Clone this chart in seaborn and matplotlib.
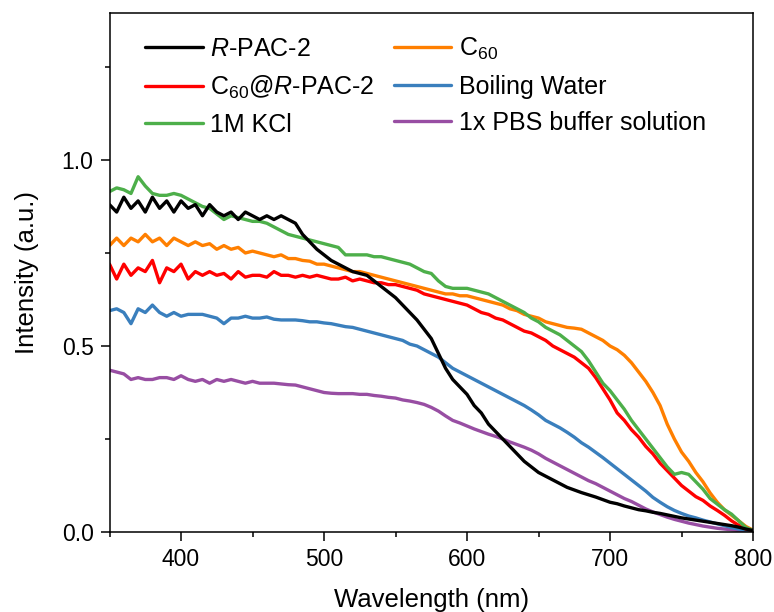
import numpy as np
import pandas as pd
import seaborn as sns
import matplotlib
matplotlib.use("Agg")
import matplotlib.pyplot as plt
from matplotlib.ticker import MultipleLocator

# wavelength grid (nm), 5 nm steps
wavelength = np.arange(350, 801, 5)

# intensities, one list per sample
r_pac2 = [0.88, 0.86, 0.90, 0.87, 0.89, 0.86, 0.90, 0.87, 0.89, 0.86,
          0.89, 0.87, 0.88, 0.85, 0.88, 0.86, 0.85, 0.86, 0.84, 0.86,
          0.85, 0.84, 0.85, 0.84, 0.85, 0.84, 0.83, 0.80, 0.78, 0.76,
          0.745, 0.73, 0.72, 0.71, 0.70, 0.695, 0.69, 0.675, 0.66, 0.645,
          0.63, 0.61, 0.59, 0.57, 0.545, 0.52, 0.48, 0.44, 0.41, 0.39,
          0.37, 0.34, 0.32, 0.29, 0.27, 0.25, 0.23, 0.21, 0.19, 0.175,
          0.16, 0.15, 0.14, 0.13, 0.12, 0.113, 0.106, 0.10, 0.094, 0.087,
          0.08, 0.076, 0.07, 0.065, 0.06, 0.057, 0.053, 0.05, 0.046, 0.042,
          0.038, 0.035, 0.032, 0.029, 0.026, 0.023, 0.02, 0.017, 0.013, 0.008,
          0.004]
c60 = [0.77, 0.79, 0.77, 0.79, 0.78, 0.80, 0.78, 0.79, 0.77, 0.79,
       0.78, 0.77, 0.78, 0.77, 0.775, 0.76, 0.77, 0.76, 0.765, 0.75,
       0.755, 0.75, 0.745, 0.74, 0.745, 0.735, 0.735, 0.73, 0.728, 0.72,
       0.72, 0.715, 0.71, 0.705, 0.70, 0.70, 0.695, 0.69, 0.685, 0.68,
       0.675, 0.67, 0.665, 0.66, 0.655, 0.65, 0.645, 0.64, 0.64, 0.635,
       0.635, 0.63, 0.625, 0.62, 0.615, 0.61, 0.60, 0.595, 0.585, 0.58,
       0.575, 0.565, 0.56, 0.555, 0.55, 0.548, 0.545, 0.535, 0.525, 0.515,
       0.50, 0.49, 0.475, 0.455, 0.43, 0.405, 0.375, 0.34, 0.29, 0.25,
       0.215, 0.19, 0.16, 0.135, 0.105, 0.08, 0.06, 0.045, 0.03, 0.015,
       0.005]
c60_r_pac2 = [0.72, 0.68, 0.72, 0.69, 0.71, 0.70, 0.73, 0.67, 0.71, 0.70,
              0.72, 0.68, 0.70, 0.69, 0.70, 0.69, 0.695, 0.68, 0.70, 0.685,
              0.69, 0.69, 0.685, 0.70, 0.69, 0.69, 0.685, 0.69, 0.685, 0.69,
              0.685, 0.68, 0.68, 0.685, 0.675, 0.68, 0.675, 0.67, 0.67, 0.665,
              0.665, 0.66, 0.655, 0.65, 0.64, 0.635, 0.63, 0.625, 0.62, 0.615,
              0.61, 0.60, 0.59, 0.585, 0.575, 0.57, 0.56, 0.55, 0.54, 0.535,
              0.525, 0.515, 0.50, 0.49, 0.48, 0.47, 0.455, 0.44, 0.415, 0.385,
              0.355, 0.32, 0.30, 0.275, 0.255, 0.23, 0.21, 0.185, 0.165, 0.145,
              0.125, 0.11, 0.095, 0.085, 0.07, 0.058, 0.045, 0.03, 0.018, 0.008,
              0.003]
boiling_water = [0.595, 0.60, 0.59, 0.56, 0.60, 0.59, 0.61, 0.59, 0.58, 0.59,
                 0.58, 0.585, 0.585, 0.585, 0.58, 0.575, 0.56, 0.575, 0.575, 0.58,
                 0.575, 0.575, 0.578, 0.572, 0.57, 0.57, 0.57, 0.568, 0.565, 0.565,
                 0.562, 0.56, 0.556, 0.552, 0.55, 0.545, 0.54, 0.535, 0.53, 0.525,
                 0.52, 0.515, 0.505, 0.50, 0.49, 0.48, 0.47, 0.455, 0.44, 0.43,
                 0.42, 0.41, 0.40, 0.39, 0.38, 0.37, 0.36, 0.35, 0.34, 0.328,
                 0.315, 0.30, 0.29, 0.28, 0.268, 0.255, 0.24, 0.228, 0.214, 0.20,
                 0.185, 0.17, 0.155, 0.14, 0.125, 0.11, 0.093, 0.08, 0.068, 0.058,
                 0.05, 0.043, 0.038, 0.032, 0.027, 0.022, 0.017, 0.012, 0.008, 0.005,
                 0.003]
kcl = [0.915, 0.925, 0.92, 0.91, 0.955, 0.93, 0.91, 0.905, 0.905, 0.91,
       0.905, 0.895, 0.885, 0.875, 0.87, 0.855, 0.84, 0.85, 0.845, 0.84,
       0.835, 0.835, 0.83, 0.82, 0.81, 0.80, 0.795, 0.79, 0.785, 0.78,
       0.775, 0.77, 0.765, 0.745, 0.745, 0.745, 0.745, 0.74, 0.74, 0.735,
       0.73, 0.725, 0.72, 0.71, 0.70, 0.695, 0.675, 0.66, 0.655, 0.655,
       0.655, 0.65, 0.645, 0.64, 0.63, 0.62, 0.61, 0.60, 0.59, 0.575,
       0.565, 0.55, 0.54, 0.53, 0.515, 0.50, 0.485, 0.46, 0.43, 0.40,
       0.38, 0.355, 0.33, 0.30, 0.275, 0.25, 0.225, 0.20, 0.175, 0.155,
       0.16, 0.155, 0.135, 0.115, 0.09, 0.075, 0.06, 0.048, 0.03, 0.012,
       0.004]
pbs = [0.435, 0.43, 0.425, 0.41, 0.415, 0.41, 0.41, 0.415, 0.415, 0.41,
       0.42, 0.41, 0.405, 0.41, 0.40, 0.41, 0.405, 0.41, 0.405, 0.40,
       0.405, 0.40, 0.40, 0.40, 0.398, 0.396, 0.395, 0.39, 0.385, 0.38,
       0.375, 0.373, 0.372, 0.372, 0.372, 0.37, 0.37, 0.367, 0.365, 0.362,
       0.36, 0.355, 0.352, 0.348, 0.343, 0.335, 0.325, 0.312, 0.30, 0.293,
       0.285, 0.277, 0.27, 0.263, 0.257, 0.25, 0.242, 0.235, 0.228, 0.22,
       0.21, 0.198, 0.188, 0.178, 0.168, 0.158, 0.148, 0.138, 0.13, 0.12,
       0.11, 0.10, 0.09, 0.082, 0.072, 0.062, 0.054, 0.047, 0.04, 0.034,
       0.029, 0.024, 0.02, 0.016, 0.013, 0.01, 0.008, 0.006, 0.004, 0.002,
       0.001]

labels = {
    "pbs": "1x PBS buffer solution",
    "water": "Boiling Water",
    "c60r": "C$_{60}$@$\\mathit{R}$-PAC-2",
    "c60": "C$_{60}$",
    "kcl": "1M KCl",
    "rpac": "$\\mathit{R}$-PAC-2",
}
series = {"pbs": pbs, "water": boiling_water, "c60r": c60_r_pac2,
          "c60": c60, "kcl": kcl, "rpac": r_pac2}
colors = {"rpac": "#000000", "c60": "#FF7F00", "c60r": "#FF0000",
          "water": "#3A7FBD", "kcl": "#4DAF4A", "pbs": "#984EA3"}

df = pd.concat([pd.DataFrame({"Wavelength": wavelength, "Intensity": v, "Sample": k})
                for k, v in series.items()], ignore_index=True)

sns.set_style("ticks", {"axes.edgecolor": "black", "text.color": "black",
                        "axes.labelcolor": "black", "xtick.color": "black",
                        "ytick.color": "black"})
plt.rcParams["font.family"] = ["Liberation Sans", "DejaVu Sans"]
plt.rcParams["mathtext.fontset"] = "custom"
plt.rcParams["mathtext.rm"] = "Liberation Sans"
plt.rcParams["mathtext.it"] = "Liberation Sans:italic"

fig = plt.figure(figsize=(7.74, 6.12), dpi=100)
ax = fig.add_axes([0.1415, 0.1307, 0.8314, 0.848])

sns.lineplot(data=df, x="Wavelength", y="Intensity", hue="Sample",
             hue_order=list(series.keys()), palette=colors, linewidth=2.4,
             legend=False, ax=ax)

ax.set_xlim(350, 800)
ax.set_ylim(0, 1.395)
ax.xaxis.set_major_locator(MultipleLocator(100))
ax.xaxis.set_minor_locator(MultipleLocator(50))
ax.yaxis.set_major_locator(MultipleLocator(0.5))
ax.yaxis.set_minor_locator(MultipleLocator(0.25))
ax.yaxis.set_major_formatter(matplotlib.ticker.FormatStrFormatter("%.1f"))
ax.tick_params(which="major", direction="out", length=6.5, width=1.1, labelsize=16.5, pad=5)
ax.tick_params(which="minor", direction="out", length=3.6, width=1.1)
for sp in ax.spines.values():
    sp.set_linewidth(1.1)
ax.set_xlabel("Wavelength (nm)", fontsize=18.5, labelpad=12)
ax.set_ylabel("Intensity (a.u.)", fontsize=18.5, labelpad=16)

# legend: two columns, filled column-wise
order = ["rpac", "c60r", "kcl", "c60", "water", "pbs"]
line_of = dict(zip(series.keys(), ax.lines))
handles = [line_of[k] for k in order]
ax.legend(handles, [labels[k] for k in order], ncol=2, frameon=False,
          loc="upper left", bbox_to_anchor=(0.04, 0.975), borderaxespad=0,
          fontsize=18, handlelength=2.3, handletextpad=0.3,
          columnspacing=0.75, labelspacing=0.5)

fig.savefig("out.png", dpi=100)
